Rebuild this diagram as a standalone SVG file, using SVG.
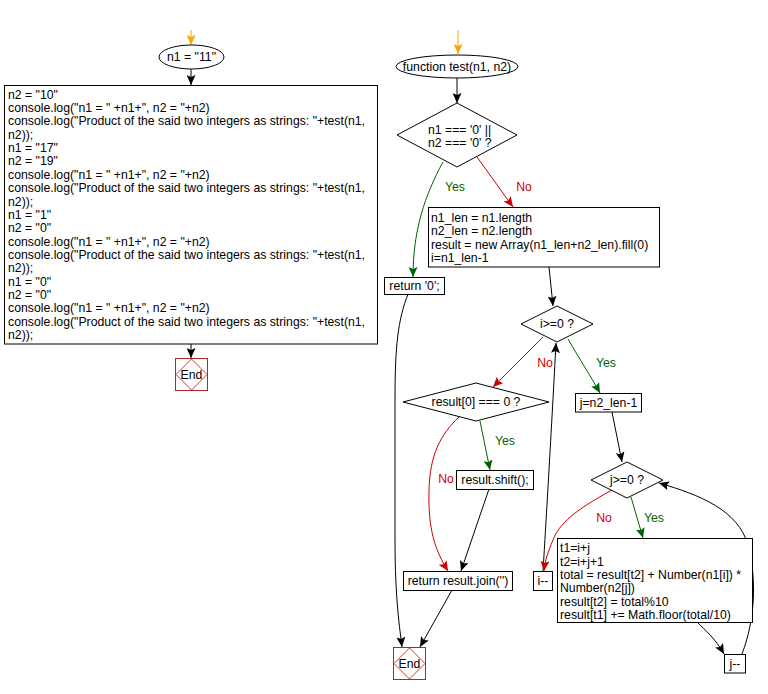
<svg xmlns="http://www.w3.org/2000/svg" width="768" height="694" viewBox="0 0 768 694">
<style>
text{font-family:"Liberation Sans",Arial,sans-serif;font-size:12.25px;fill:#000}
.box{fill:#fff;stroke:#000;stroke-width:1}
.c{text-anchor:middle}
.e{fill:none;stroke:#000;stroke-width:1}
.g{stroke:#006400}
.r{stroke:#cc0000}
.o{stroke:#ffa500}
.gt{fill:#006400}
.rt{fill:#cc0000}
.endr{fill:#fff;stroke:#a52a2a;stroke-width:1}
.endd{fill:none;stroke:#cc0000;stroke-width:0.8}
</style>
<defs>
<marker id="ab" markerUnits="userSpaceOnUse" markerWidth="10" markerHeight="9" viewBox="0 0 10 9" refX="10" refY="4.5" orient="auto"><path d="M0,0 L10,4.5 L0,9 L2,4.5 z" fill="#000"/></marker>
<marker id="ag" markerUnits="userSpaceOnUse" markerWidth="10" markerHeight="9" viewBox="0 0 10 9" refX="10" refY="4.5" orient="auto"><path d="M0,0 L10,4.5 L0,9 L2,4.5 z" fill="#006400"/></marker>
<marker id="ar" markerUnits="userSpaceOnUse" markerWidth="10" markerHeight="9" viewBox="0 0 10 9" refX="10" refY="4.5" orient="auto"><path d="M0,0 L10,4.5 L0,9 L2,4.5 z" fill="#cc0000"/></marker>
<marker id="ao" markerUnits="userSpaceOnUse" markerWidth="10" markerHeight="9" viewBox="0 0 10 9" refX="10" refY="4.5" orient="auto"><path d="M0,0 L10,4.5 L0,9 L2,4.5 z" fill="#ffa500"/></marker>
</defs>

<g id="connectors">
<path class="e o" d="M191,30 L191,45" marker-end="url(#ao)"/>
<path class="e" d="M191,69 L191,85" marker-end="url(#ab)"/>
<path class="e" d="M191,344 L191,358" marker-end="url(#ab)"/>
<path class="e o" d="M458,30 L458,54" marker-end="url(#ao)"/>
<path class="e" d="M457,78 L457,103" marker-end="url(#ab)"/>
<path class="e g" d="M443,162 C425,195 413,230 413,277" marker-end="url(#ag)"/>
<path class="e r" d="M477,157 L513,207" marker-end="url(#ar)"/>
<path class="e" d="M549,267 L553,306" marker-end="url(#ab)"/>
<path class="e" d="M408,294 C398,320 395,345 395,400 L395,540 C395,600 400,630 402,647" marker-end="url(#ab)"/>
<path class="e r" d="M543,337 C525,355 510,370 493,387" marker-end="url(#ar)"/>
<path class="e g" d="M568,339 C580,360 590,375 600,393" marker-end="url(#ag)"/>
<path class="e g" d="M480,421 L490,470" marker-end="url(#ag)"/>
<path class="e r" d="M459,417 C440,435 430,455 429,490 C428,530 435,550 448,571" marker-end="url(#ar)"/>
<path class="e" d="M489,489 L461,571" marker-end="url(#ab)"/>
<path class="e" d="M452,590 L420,647" marker-end="url(#ab)"/>
<path class="e" d="M543,571 C545,540 552,420 556,343" marker-end="url(#ab)"/>
<path class="e" d="M612,412 L622,462" marker-end="url(#ab)"/>
<path class="e g" d="M631,497 L643,538" marker-end="url(#ag)"/>
<path class="e r" d="M612,490 C585,505 560,520 553,540 C548,552 545,560 544,571" marker-end="url(#ar)"/>
<path class="e" d="M698,623 C705,630 715,638 724,654" marker-end="url(#ab)"/>
<path class="e" d="M742,654 C755,620 757,580 748,545 C738,510 700,495 659,483" marker-end="url(#ab)"/>
<text x="455" y="191" class="c gt">Yes</text>
<text x="524" y="191" class="c rt">No</text>
<text x="545" y="367" class="c rt">No</text>
<text x="606" y="367" class="c gt">Yes</text>
<text x="505" y="445" class="c gt">Yes</text>
<text x="446" y="483" class="c rt">No</text>
<text x="604" y="522" class="c rt">No</text>
<text x="654" y="522" class="c gt">Yes</text>
</g>

<g id="start1">
<ellipse cx="191.5" cy="57" rx="32.5" ry="12" class="box"/>
<text x="191.5" y="61" class="c">n1 = "11"</text>
</g>

<g id="main">
<rect x="4.5" y="85.5" width="373" height="258.5" class="box"/>
<text x="8" y="98.7">n2 = "10"</text>
<text x="8" y="112.05">console.log("n1 = " +n1+", n2 = "+n2)</text>
<text x="8" y="125.4">console.log("Product of the said two integers as strings: "+test(n1,</text>
<text x="8" y="138.75">n2));</text>
<text x="8" y="152.1">n1 = "17"</text>
<text x="8" y="165.45">n2 = "19"</text>
<text x="8" y="178.8">console.log("n1 = " +n1+", n2 = "+n2)</text>
<text x="8" y="192.15">console.log("Product of the said two integers as strings: "+test(n1,</text>
<text x="8" y="205.5">n2));</text>
<text x="8" y="218.85">n1 = "1"</text>
<text x="8" y="232.2">n2 = "0"</text>
<text x="8" y="245.55">console.log("n1 = " +n1+", n2 = "+n2)</text>
<text x="8" y="258.9">console.log("Product of the said two integers as strings: "+test(n1,</text>
<text x="8" y="272.25">n2));</text>
<text x="8" y="285.6">n1 = "0"</text>
<text x="8" y="298.95">n2 = "0"</text>
<text x="8" y="312.3">console.log("n1 = " +n1+", n2 = "+n2)</text>
<text x="8" y="325.65">console.log("Product of the said two integers as strings: "+test(n1,</text>
<text x="8" y="339">n2));</text>
</g>

<g id="end1">
<rect x="175.5" y="358.5" width="32" height="32" class="endr"/>
<path d="M191.5,359 L207,374.5 L191.5,390 L176,374.5 z" class="endd"/>
<text x="191.5" y="379" class="c">End</text>
</g>

<g id="func">
<ellipse cx="457" cy="66.5" rx="61" ry="11.5" class="box"/>
<text x="457" y="71" class="c">function test(n1, n2)</text>
</g>

<g id="cond1">
<path d="M457,103 L517,135 L457,167 L397,135 z" class="box"/>
<text x="428" y="134">n1 === '0' ||</text>
<text x="428" y="147">n2 === '0' ?</text>
</g>

<g id="ret0">
<rect x="384.5" y="277.5" width="60" height="17" class="box"/>
<text x="414.5" y="290" class="c">return '0';</text>
</g>

<g id="init">
<rect x="428.5" y="207.5" width="231" height="59.5" class="box"/>
<text x="431" y="222">n1_len = n1.length</text>
<text x="431" y="235.3">n2_len = n2.length</text>
<text x="431" y="248.6">result = new Array(n1_len+n2_len).fill(0)</text>
<text x="431" y="261.9">i=n1_len-1</text>
</g>

<g id="condi">
<path d="M557,306 L593,324 L557,342 L521,324 z" class="box"/>
<text x="557" y="328" class="c">i&gt;=0 ?</text>
</g>

<g id="cond0">
<path d="M476,383 L549,402 L476,421 L403,402 z" class="box"/>
<text x="476" y="406" class="c">result[0] === 0 ?</text>
</g>

<g id="shift">
<rect x="456.5" y="470.5" width="77" height="19" class="box"/>
<text x="495" y="484" class="c">result.shift();</text>
</g>

<g id="join">
<rect x="403.5" y="571.5" width="109" height="19" class="box"/>
<text x="458" y="585" class="c">return result.join('')</text>
</g>

<g id="end2">
<rect x="393.5" y="647.5" width="32" height="32" class="endr"/>
<path d="M409.5,648 L425,663.5 L409.5,679 L394,663.5 z" class="endd"/>
<text x="409.5" y="668" class="c">End</text>
</g>

<g id="jinit">
<rect x="575.5" y="393.5" width="66" height="18.5" class="box"/>
<text x="608.5" y="407" class="c">j=n2_len-1</text>
</g>

<g id="condj">
<path d="M627,462 L663,480 L627,498 L591,480 z" class="box"/>
<text x="627" y="484" class="c">j&gt;=0 ?</text>
</g>

<g id="idec">
<rect x="533.5" y="571.5" width="19" height="19" class="box"/>
<text x="543" y="585" class="c">i--</text>
</g>

<g id="body">
<rect x="557.5" y="538.5" width="195" height="84" class="box"/>
<text x="560" y="552.3">t1=i+j</text>
<text x="560" y="565.6">t2=i+j+1</text>
<text x="560" y="579">total = result[t2] + Number(n1[i]) *</text>
<text x="560" y="592.3">Number(n2[j])</text>
<text x="560" y="605.7">result[t2] = total%10</text>
<text x="560" y="619">result[t1] += Math.floor(total/10)</text>
</g>

<g id="jdec">
<rect x="724.5" y="654.5" width="21" height="18.5" class="box"/>
<text x="735" y="668" class="c">j--</text>
</g>
</svg>
